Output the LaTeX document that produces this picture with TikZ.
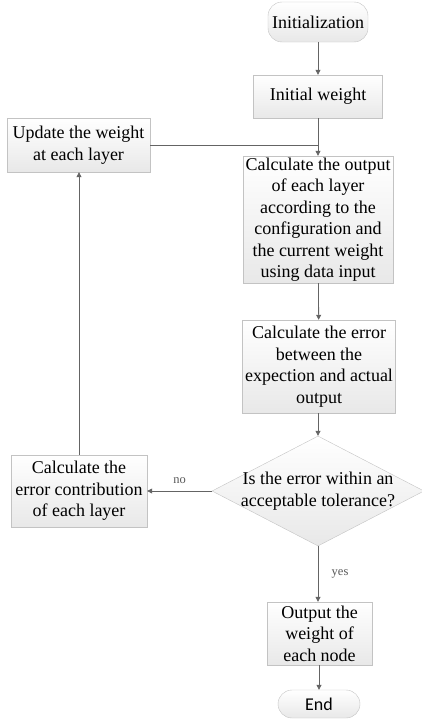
\documentclass[tikz,border=0pt]{standalone}
\usepackage{fontspec}
\setmainfont{Liberation Serif}
\newfontfamily\endfont{Carlito}
\usetikzlibrary{shapes.geometric,arrows.meta}
\definecolor{boxline}{RGB}{195,195,195}
\definecolor{flowline}{RGB}{100,100,100}
\tikzset{
    box/.style={draw=boxline,top color=white,bottom color=black!9,rectangle,align=center,inner sep=0pt,font=\fontsize{18}{21.5}\selectfont},
    term/.style={box,rounded corners=14pt},
    decision/.style={draw=boxline,top color=white,bottom color=black!9,diamond,inner sep=0pt,minimum width=212pt,minimum height=110pt},
    flow/.style={draw=flowline,line width=0.8pt,-{Triangle[width=5pt,length=5pt]}},
    tag/.style={text=black!65,font=\fontsize{12.5}{14}\selectfont}
}
\begin{document}
\begin{tikzpicture}[x=1pt,y=-1pt]
    \useasboundingbox (0,0) rectangle (422,720);
    \node[term,minimum width=100pt,minimum height=40pt] (init) at (318,22) {Initialization};
    \node[box,minimum width=129pt,minimum height=43pt] (iw) at (318,96.5) {Initial weight};
    \node[box,minimum width=150pt,minimum height=127pt] (calc) at (318,219.5) {Calculate the output\\of each layer\\according to the\\configuration and\\the current weight\\using data input};
    \node[box,minimum width=153pt,minimum height=93pt] (err) at (319,366.5) {Calculate the error\\between the\\expection and actual\\output};
    \node[decision] (dec) at (318,491) {};
    \node[align=center,inner sep=0pt,font=\fontsize{18}{21.5}\selectfont] (dectext) at (dec.center) {Is the error within an\\acceptable tolerance?};
    \node[box,minimum width=136pt,minimum height=72pt] (contrib) at (79,491) {Calculate the\\error contribution\\of each layer};
    \node[box,minimum width=143pt,minimum height=54pt] (upd) at (78.5,145) {Update the weight\\at each layer};
    \node[box,minimum width=105pt,minimum height=63pt] (out) at (319.5,633.5) {Output the\\weight of\\each node};
    \node[term,minimum width=82pt,minimum height=28pt,font=\endfont\fontsize{18}{21.5}\selectfont] (end) at (319,704) {End};
    % main line
    \draw[flow] (init) -- (iw);
    \draw[flow] (iw) -- (calc);
    \draw[flow] (calc) -- (err);
    \draw[flow] (err.south -| dec.north) -- (dec.north);
    \draw[flow] (dec.south) -- node[tag,right=10pt] (yes) {yes} (out.north -| dec.south);
    \draw[flow] (out.south -| end.north) -- (end.north);
    % feedback loop
    \draw[flow] (dec.west) -- node[tag,above=4pt] (no) {no} (contrib.east);
    \draw[flow] (contrib.north) -- (contrib.north |- upd.south);
    \draw[draw=flowline,line width=0.8pt] (upd.east) -- (upd.east -| calc.north);
\end{tikzpicture}
\end{document}
